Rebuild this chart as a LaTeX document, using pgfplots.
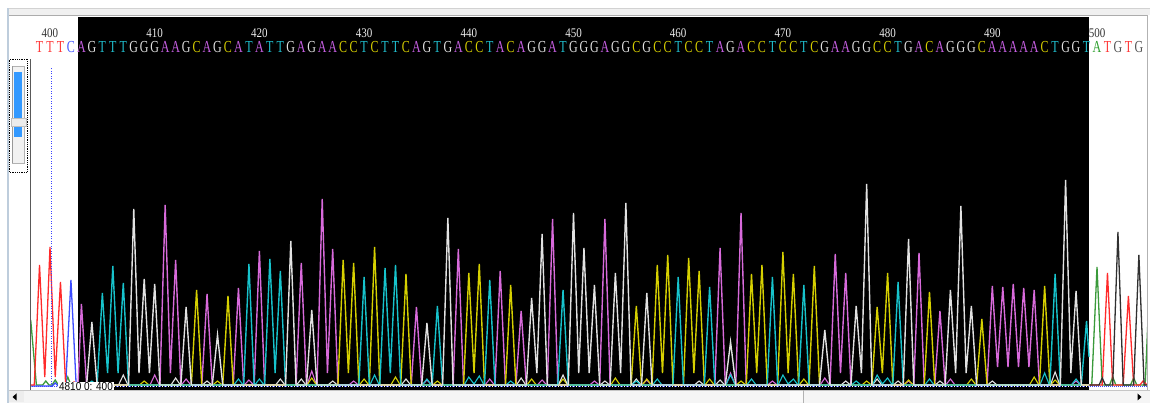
\documentclass[border=0pt]{standalone}
\usepackage{pgfplots}
\pgfplotsset{compat=1.18}
\usepackage{graphicx}
\usepackage{fontspec}
\setmainfont{Liberation Serif}
\setsansfont{Liberation Sans}
% trace colours, dark panel
\definecolor{kA}{HTML}{D86ADB}
\definecolor{kC}{HTML}{D6D000}
\definecolor{kG}{HTML}{E2E2E2}
\definecolor{kT}{HTML}{17C3CC}
% trace colours, white panel
\definecolor{wA}{HTML}{3A9A3A}
\definecolor{wC}{HTML}{3B4BFF}
\definecolor{wG}{HTML}{303030}
\definecolor{wT}{HTML}{FF2A2A}
% letter colours
\definecolor{lA}{HTML}{C45EE0}
\definecolor{lC}{HTML}{D4CC00}
\definecolor{lG}{HTML}{E0E0E0}
\definecolor{lT}{HTML}{20BCCB}
\definecolor{mA}{HTML}{2EA02E}
\definecolor{mC}{HTML}{4455FF}
\definecolor{mG}{HTML}{555555}
\definecolor{mT}{HTML}{FF3838}
\definecolor{winedge}{RGB}{190,205,220}
\definecolor{scrollblue}{RGB}{51,153,255}
\definecolor{cursorblue}{RGB}{60,70,255}
\newcommand{\seqL}[2]{\fontsize{12}{12}\selectfont\scalebox{1}[1.4]{\textcolor{#1}{#2}}}
\newcommand{\numL}[1]{\fontsize{11}{11}\selectfont\scalebox{1}[1.2]{#1}}
\begin{document}
\begin{tikzpicture}[x=1pt,y=1pt]
% ---------- background / window ----------
\fill[white] (0,0) rectangle (1150,403);
\fill[gray!12] (8,387.5) rectangle (1150,395);
\draw[gray!35] (8,395)--(1150,395);
\draw[gray!65, line width=1] (8,387.5)--(1147,387.5);
\fill[black] (78,13) rectangle (1089,386);
% ---------- traces ----------
\begin{axis}[at={(30pt,13pt)}, anchor=south west, scale only axis,
  width=1117pt, height=373pt,
  xmin=398.09, xmax=504.776, ymin=-3, ymax=370,
  hide axis, clip mode=individual]
% ----- left white panel (T red, C blue, A green) -----
\addplot[wA, line width=1.3pt] coordinates {(397.95,45)(398.2,62)(398.7,2)(399.3,2)(399.6,6)(399.9,2)(400.2,2)(400.5,7)(400.8,2)(401.4,2)(401.7,10)(402.0,2)(402.67,2)};
\addplot[wC, line width=1.3pt] coordinates {(398.09,1)(400.2,1)(400.5,4)(400.8,1)(401.5,2)(402,107)(402.5,2)(402.67,2)};
\addplot[wT, line width=1.3pt] coordinates {(398.09,2)(398.5,2)(399,122)(399.5,10)(400,140)(400.5,10)(401,105)(401.5,2)(402.0,2)(402.3,5)(402.6,2)};
% ----- right white panel -----
\addplot[wA, line width=1.3pt] coordinates {(499.24,2)(499.5,2)(500,120)(500.5,2)(501.2,2)(501.5,10)(501.8,2)(503.2,2)(503.5,9)(503.8,2)(504.6,2)(505.1,125)};
\addplot[wT, line width=1.3pt] coordinates {(499.24,2)(500.5,2)(501,114)(501.5,2)(502.5,2)(503,91)(503.5,2)(504.1,2)(504.4,6)(504.78,2)};
\addplot[wG, line width=1.3pt] coordinates {(499.24,2)(500.2,2)(500.5,9)(500.8,2)(501.5,2)(502,155)(502.5,2)(503.5,2)(504,132)(504.5,2)(504.78,2)};
% ----- dark panel: small secondary bumps -----
\addplot[kA, line width=1.1pt] coordinates {(402.68,2)(409.55,2)(410,12)(410.45,2)(412.55,2)(413,8)(413.45,2)(418.55,2)(419,7)(419.45,2)(424.55,2)(425,16)(425.45,2)(428.55,2)(429,6)(429.45,2)(435.55,2)(436,7)(436.45,2)(441.55,2)(442,8)(442.45,2)(446.55,2)(447,7)(447.45,2)(451.55,2)(452,6)(452.45,2)(456.55,2)(457,7)(457.45,2)(464.55,2)(465,14)(465.45,2)(468.55,2)(469,6)(469.45,2)(473.55,2)(474,9)(474.45,2)(481.55,2)(482,6)(482.45,2)(485.55,2)(486,8)(486.45,2)(497.55,2)(498,6)(498.45,2)(499.24,2)};
\addplot[kC, line width=1.1pt] coordinates {(402.68,2)(408.55,2)(409,6)(409.45,2)(415.55,2)(416,6)(416.45,2)(424.55,2)(425,9)(425.45,2)(429.55,2)(430,8)(430.45,2)(432.55,2)(433,10)(433.45,2)(436.55,2)(437,6)(437.45,2)(445.55,2)(446,8)(446.45,2)(448.55,2)(449,8)(449.45,2)(453.55,2)(454,9)(454.45,2)(456.55,2)(457,8)(457.45,2)(462.55,2)(463,8)(463.45,2)(465.55,2)(466,6)(466.45,2)(471.55,2)(472,8)(472.45,2)(477.55,2)(478,6)(478.45,2)(481.55,2)(482,7)(482.45,2)(487.55,2)(488,8)(488.45,2)(493.55,2)(494,10)(494.45,2)(495.55,2)(496,7)(496.45,2)(499.24,2)};
\addplot[kG, line width=1.1pt] coordinates {(402.68,2)(406.55,2)(407,12)(407.45,2)(411.55,2)(412,9)(412.45,2)(414.55,2)(415,6)(415.45,2)(421.55,2)(422,8)(422.45,2)(423.55,2)(424,8)(424.45,2)(426.55,2)(427,6)(427.45,2)(433.55,2)(434,8)(434.45,2)(444.55,2)(445,9)(445.45,2)(448.55,2)(449,12)(449.45,2)(452.55,2)(453,6)(453.45,2)(455.55,2)(456,8)(456.45,2)(461.55,2)(462,6)(462.45,2)(463.55,2)(464,7)(464.45,2)(475.55,2)(476,6)(476.45,2)(478.55,2)(479,8)(479.45,2)(480.55,2)(481,6)(481.45,2)(484.55,2)(485,6)(485.45,2)(489.55,2)(490,6)(490.45,2)(495.55,2)(496,15)(496.45,2)(499.24,2)};
\addplot[kT, line width=1.1pt] coordinates {(402.68,2)(403.55,2)(404,6)(404.45,2)(417.55,2)(418,8)(418.45,2)(419.55,2)(420,8)(420.45,2)(430.55,2)(431,12)(431.45,2)(435.55,2)(436,8)(436.45,2)(439.55,2)(440,10)(440.5,3)(441,11)(441.45,2)(443.55,2)(444,6)(444.45,2)(455.55,2)(456,6)(456.45,2)(457.55,2)(458,8)(458.45,2)(464.55,2)(465,12)(465.45,2)(466.55,2)(467,8)(467.45,2)(469.55,2)(470,12)(470.5,3)(471,8)(471.45,2)(476.55,2)(477,6)(477.45,2)(478.55,2)(479,12)(479.5,3)(480,9)(480.45,2)(483.55,2)(484,8)(484.45,2)(494.55,2)(495,14)(495.45,2)(497.55,2)(498,8)(498.45,2)(499.24,2)};
% ----- dark panel: main peaks -----
% A (magenta)
\addplot[kA, line width=1.4pt] coordinates {(402.68,2)(403,83)(403.5,2)
 (410.5,2)(411,182)(411.5,14)(412,127)(412.5,2)
 (414.5,2)(415,93)(415.5,2)
 (417.5,2)(418,99)(418.5,2)
 (419.5,2)(420,136)(420.5,2)
 (423.5,2)(424,124)(424.5,2)
 (425.5,2)(426,188)(426.5,14)(427,138)(427.5,2)
 (434.5,2)(435,80)(435.5,2)
 (438.5,2)(439,138)(439.5,2)
 (442.5,2)(443,116)(443.5,2)
 (444.5,2)(445,76)(445.5,2)
 (447.5,2)(448,168)(448.5,2)
 (452.5,2)(453,168)(453.5,2)
 (463.5,2)(464,139)(464.5,2)
 (465.5,2)(466,174)(466.5,2)
 (474.5,2)(475,133)(475.5,14)(476,114)(476.5,2)
 (482.5,2)(483,134)(483.5,2)
 (484.5,2)(485,76)(485.5,2)
 (489.5,2)(490,101)(490.5,20)(491,100)(491.5,20)(492,103)(492.5,20)(493,99)(493.5,20)(494,97)(494.5,2)
 (499.24,2)};
% C (yellow)
\addplot[kC, line width=1.4pt] coordinates {(402.68,2)
 (413.5,2)(414,97)(414.5,2)
 (416.5,2)(417,91)(417.5,2)
 (427.5,2)(428,127)(428.5,14)(429,124)(429.5,2)
 (430.5,2)(431,140)(431.5,2)
 (433.5,2)(434,113)(434.5,2)
 (439.5,2)(440,114)(440.5,14)(441,123)(441.5,2)
 (443.5,2)(444,102)(444.5,2)
 (455.5,2)(456,81)(456.5,2)
 (457.5,2)(458,122)(458.5,14)(459,132)(459.5,2)
 (460.5,2)(461,129)(461.5,14)(462,116)(462.5,2)
 (466.5,2)(467,113)(467.5,14)(468,122)(468.5,2)
 (469.5,2)(470,135)(470.5,14)(471,113)(471.5,2)
 (472.5,2)(473,121)(473.5,2)
 (478.5,2)(479,80)(479.5,14)(480,114)(480.5,2)
 (483.5,2)(484,95)(484.5,2)
 (488.5,2)(489,68)(489.5,2)
 (494.5,2)(495,101)(495.5,2)
 (499.24,2)};
% T (cyan)
\addplot[kT, line width=1.4pt] coordinates {(402.68,2)
 (404.5,2)(405,94)(405.5,14)(406,121)(406.5,14)(407,104)(407.5,2)
 (418.5,2)(419,123)(419.5,2)
 (420.5,2)(421,128)(421.5,14)(422,116)(422.5,2)
 (429.5,2)(430,110)(430.5,2)
 (431.5,2)(432,119)(432.5,14)(433,122)(433.5,2)
 (436.5,2)(437,81)(437.5,2)
 (441.5,2)(442,107)(442.5,2)
 (448.5,2)(449,97)(449.5,2)
 (459.5,2)(460,110)(460.5,2)
 (462.5,2)(463,100)(463.5,2)
 (468.5,2)(469,110)(469.5,2)
 (471.5,2)(472,102)(472.5,2)
 (480.5,2)(481,105)(481.5,2)
 (495.5,2)(496,113)(496.5,2)
 (498.5,2)(499,66)(499.24,30)};
% G (white)
\addplot[kG, line width=1.4pt] coordinates {(402.68,2)
 (403.5,2)(404,65)(404.5,2)
 (407.5,2)(408,178)(408.5,14)(409,108)(409.5,14)(410,103)(410.5,2)
 (412.5,2)(413,80)(413.5,2)
 (415.5,2)(416,52)(416.5,2)
 (422.5,2)(423,146)(423.5,2)
 (424.5,2)(425,77)(425.5,2)
 (435.5,2)(436,64)(436.5,2)
 (437.5,2)(438,169)(438.5,2)
 (445.5,2)(446,89)(446.5,14)(447,153)(447.5,2)
 (449.5,2)(450,174)(450.5,14)(451,139)(451.5,14)(452,102)(452.5,2)
 (453.5,2)(454,114)(454.5,14)(455,184)(455.5,2)
 (456.5,2)(457,94)(457.5,2)
 (464.5,2)(465,45)(465.5,2)
 (473.5,2)(474,57)(474.5,2)
 (476.5,2)(477,81)(477.5,14)(478,203)(478.5,2)
 (481.5,2)(482,148)(482.5,2)
 (485.5,2)(486,97)(486.5,14)(487,181)(487.5,14)(488,81)(488.5,2)
 (496.5,2)(497,207)(497.5,14)(498,96)(498.5,2)
 (499.24,2)};
% ----- baseline -----
\addplot[cursorblue, line width=1pt, densely dotted] coordinates {(398.09,0)(504.78,0)};
\addplot[white, line width=1pt, dash pattern=on 1pt off 2pt] coordinates {(402.68,0)(499.24,0)};
% ----- base calls -----
\addplot[draw=none, point meta=explicit symbolic,
  nodes near coords={\seqL{m\pgfplotspointmeta}{\pgfplotspointmeta}},
  nodes near coords align={center},
  every node near coord/.append style={anchor=center, inner sep=0pt}]
  coordinates {(399,340)[T] (400,340)[T] (401,340)[T] (402,340)[C]
  (500,340)[A] (501,340)[T] (502,340)[G] (503,340)[T] (504,340)[G]};
\addplot[draw=none, point meta=explicit symbolic,
  nodes near coords={\seqL{l\pgfplotspointmeta}{\pgfplotspointmeta}},
  nodes near coords align={center},
  every node near coord/.append style={anchor=center, inner sep=0pt}]
  coordinates {
  (403,340)[A] (404,340)[G] (405,340)[T] (406,340)[T] (407,340)[T] (408,340)[G] (409,340)[G] (410,340)[G] (411,340)[A] (412,340)[A]
  (413,340)[G] (414,340)[C] (415,340)[A] (416,340)[G] (417,340)[C] (418,340)[A] (419,340)[T] (420,340)[A] (421,340)[T] (422,340)[T]
  (423,340)[G] (424,340)[A] (425,340)[G] (426,340)[A] (427,340)[A] (428,340)[C] (429,340)[C] (430,340)[T] (431,340)[C] (432,340)[T]
  (433,340)[T] (434,340)[C] (435,340)[A] (436,340)[G] (437,340)[T] (438,340)[G] (439,340)[A] (440,340)[C] (441,340)[C] (442,340)[T]
  (443,340)[A] (444,340)[C] (445,340)[A] (446,340)[G] (447,340)[G] (448,340)[A] (449,340)[T] (450,340)[G] (451,340)[G] (452,340)[G]
  (453,340)[A] (454,340)[G] (455,340)[G] (456,340)[C] (457,340)[G] (458,340)[C] (459,340)[C] (460,340)[T] (461,340)[C] (462,340)[C]
  (463,340)[T] (464,340)[A] (465,340)[G] (466,340)[A] (467,340)[C] (468,340)[C] (469,340)[T] (470,340)[C] (471,340)[C] (472,340)[T]
  (473,340)[C] (474,340)[G] (475,340)[A] (476,340)[A] (477,340)[G] (478,340)[G] (479,340)[C] (480,340)[C] (481,340)[T] (482,340)[G]
  (483,340)[A] (484,340)[C] (485,340)[A] (486,340)[G] (487,340)[G] (488,340)[G] (489,340)[C] (490,340)[A] (491,340)[A] (492,340)[A]
  (493,340)[A] (494,340)[A] (495,340)[C] (496,340)[T] (497,340)[G] (498,340)[G] (499,340)[T]};
% ----- position numbers -----
\addplot[draw=none, point meta=explicit symbolic,
  nodes near coords={\numL{\textcolor{black!80}{\pgfplotspointmeta}}},
  nodes near coords align={center},
  every node near coord/.append style={anchor=center, inner sep=0pt}]
  coordinates {(400,354)[400] (500,354)[500]};
\addplot[draw=none, point meta=explicit symbolic,
  nodes near coords={\numL{\textcolor{white!92!black}{\pgfplotspointmeta}}},
  nodes near coords align={center},
  every node near coord/.append style={anchor=center, inner sep=0pt}]
  coordinates {(410,354)[410] (420,354)[420] (430,354)[430] (440,354)[440] (450,354)[450]
  (460,354)[460] (470,354)[470] (480,354)[480] (490,354)[490]};
\end{axis}
% ---------- foreground decorations ----------
\draw[winedge, line width=1.5] (8,0)--(8,395);
\draw[gray!70!black, line width=1] (30,13)--(30,344);
\draw[gray!60, line width=1] (1147.5,13)--(1147.5,388);
% cursor
\draw[cursorblue, dash pattern=on 1pt off 1.5pt, line width=1] (51.5,16)--(51.5,336);
% position box
\node[fill=white, inner xsep=1pt, inner ysep=0.5pt, font=\sffamily\fontsize{10}{10}\selectfont] at (86,16.5) {\scalebox{1}[1.15]{4810 0: 400}};
% left widget
\draw[densely dotted, line width=0.8] (9.5,231) rectangle (27.5,344);
\fill[gray!10] (12,240) rectangle (24,337);
\draw[gray!60] (12,240) rectangle (24,337);
\draw[gray!80, line width=1] (12.5,240)--(12.5,337);
\fill[scrollblue] (14,266) rectangle (22,331);
\fill[gray!15] (11,277) rectangle (26,285);
\draw[gray!50] (11,277) rectangle (26,285);
% bottom scrollbar
\fill[gray!8] (8.8,0) rectangle (1150,12);
\draw[gray!45] (8.8,12.5)--(1150,12.5);
\fill[gray!14] (9,0.5) rectangle (24,11.5);
\fill[black] (12.5,6)--(16.5,9.5)--(16.5,2.5)--cycle;
\fill[white!96!gray] (790,1) rectangle (803,11.5);
\draw[gray!60] (803,0)--(803,12.5);
\fill[black] (1141.5,6)--(1137.5,9.5)--(1137.5,2.5)--cycle;
\pgfresetboundingbox
\useasboundingbox (0,0) rectangle (1150,403);
\end{tikzpicture}
\end{document}
